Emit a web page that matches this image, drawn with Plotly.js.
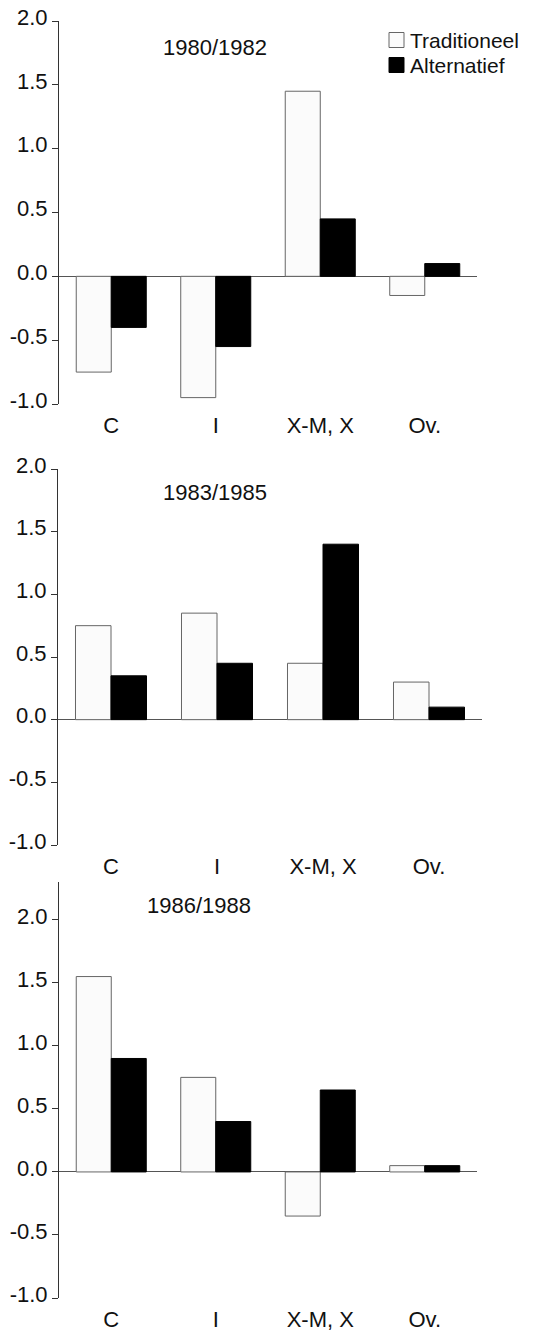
<!DOCTYPE html>
<html>
<head>
<meta charset="utf-8">
<script src="https://cdn.plot.ly/plotly-3.0.1.min.js"></script>
<style>
html,body{margin:0;padding:0;background:#fff;}
#chart{width:552px;height:1331px;}
</style>
</head>
<body>
<div id="chart"></div>
<script>
// ---- data ----
const categories = ["C", "I", "X-M, X", "Ov."];
const periods = ["1980/1982", "1983/1985", "1986/1988"];
const seriesNames = ["Traditioneel", "Alternatief"];
const trad1 = [-0.75, -0.95, 1.45, -0.15];
const alt1  = [-0.40, -0.55, 0.45, 0.10];
const trad2 = [0.75, 0.85, 0.45, 0.30];
const alt2  = [0.35, 0.45, 1.40, 0.10];
const trad3 = [1.55, 0.75, -0.35, 0.05];
const alt3  = [0.90, 0.40, 0.65, 0.05];
const yTickVals = [-1.0, -0.5, 0.0, 0.5, 1.0, 1.5, 2.0];
const yTickText = ["-1.0", "-0.5", "0.0", "0.5", "1.0", "1.5", "2.0"];

const H = 1331, W = 552;
const FONT = "Liberation Sans, Arial, Helvetica, sans-serif";
const tradData = [trad1, trad2, trad3];
const altData = [alt1, alt2, alt3];

// panel pixel geometry
const panels = [
  {top: 21, bottom: 404, left: 59, right: 477, ymax: 2.0},
  {top: 469, bottom: 845, left: 58, right: 482, ymax: 2.0},
  {top: 882, bottom: 1298, left: 59, right: 477, ymax: 2.3}
];

const traces = [];
const layout = {
  width: W, height: H,
  margin: {l: 0, r: 0, t: 0, b: 0},
  paper_bgcolor: "#fff", plot_bgcolor: "rgba(0,0,0,0)",
  showlegend: false,
  barmode: "group",
  bargap: 0.33,
  bargroupgap: 0,
  font: {family: FONT, size: 21, color: "#111"},
  annotations: [],
  shapes: []
};

panels.forEach((p, i) => {
  const n = i === 0 ? "" : String(i + 1);
  const xa = "x" + n, ya = "y" + n;
  traces.push({
    type: "bar", x: categories, y: tradData[i], name: seriesNames[0],
    xaxis: xa, yaxis: ya,
    marker: {color: "#fbfbfb", line: {color: "#666", width: 1}},
    hoverinfo: "x+y"
  });
  traces.push({
    type: "bar", x: categories, y: altData[i], name: seriesNames[1],
    xaxis: xa, yaxis: ya,
    marker: {color: "#000", line: {color: "#000", width: 1}},
    hoverinfo: "x+y"
  });
  layout["xaxis" + n] = {
    domain: [p.left / W, p.right / W],
    anchor: ya,
    type: "category",
    range: [-0.5, 3.5],
    showline: false, showgrid: false, zeroline: false,
    ticks: "outside", ticklen: 2, tickcolor: "rgba(0,0,0,0)",
    tickfont: {family: FONT, size: 22, color: "#111"},
    fixedrange: true
  };
  layout["yaxis" + n] = {
    domain: [1 - p.bottom / H, 1 - p.top / H],
    anchor: xa,
    range: [-1, p.ymax],
    tickmode: "array",
    tickvals: yTickVals,
    ticktext: yTickText,
    showline: true, linecolor: "#333", linewidth: 1,
    ticks: "outside", ticklen: 6, tickcolor: "#333", tickwidth: 1,
    showgrid: false,
    zeroline: true, zerolinecolor: "#555", zerolinewidth: 1,
    tickfont: {family: FONT, size: 22, color: "#111"},
    ticklabelshift: -4,
    fixedrange: true
  };
});

// panel titles
const titlePos = [{x: 215, y: 47}, {x: 215, y: 492}, {x: 199, y: 905}];
periods.forEach((t, i) => {
  layout.annotations.push({
    text: t, xref: "paper", yref: "paper",
    x: titlePos[i].x / W, y: 1 - titlePos[i].y / H,
    xanchor: "center", yanchor: "middle", showarrow: false,
    font: {family: FONT, size: 22, color: "#111"}
  });
});

// legend (drawn manually, top-right of first panel)
const legendRows = [
  {name: seriesNames[0], y: 40, fill: "#fbfbfb", line: "#666"},
  {name: seriesNames[1], y: 65, fill: "#000", line: "#000"}
];
legendRows.forEach(r => {
  layout.shapes.push({
    type: "rect", xref: "paper", yref: "paper",
    x0: 389 / W, x1: 404 / W,
    y0: 1 - (r.y + 7.5) / H, y1: 1 - (r.y - 7.5) / H,
    fillcolor: r.fill, line: {color: r.line, width: 1}
  });
  layout.annotations.push({
    text: r.name, xref: "paper", yref: "paper",
    x: 409 / W, y: 1 - r.y / H, xanchor: "left", yanchor: "middle",
    showarrow: false, borderpad: 0,
    font: {family: FONT, size: 21, color: "#111"}
  });
});

Plotly.newPlot("chart", traces, layout, {displayModeBar: false, staticPlot: true});
</script>
</body>
</html>
